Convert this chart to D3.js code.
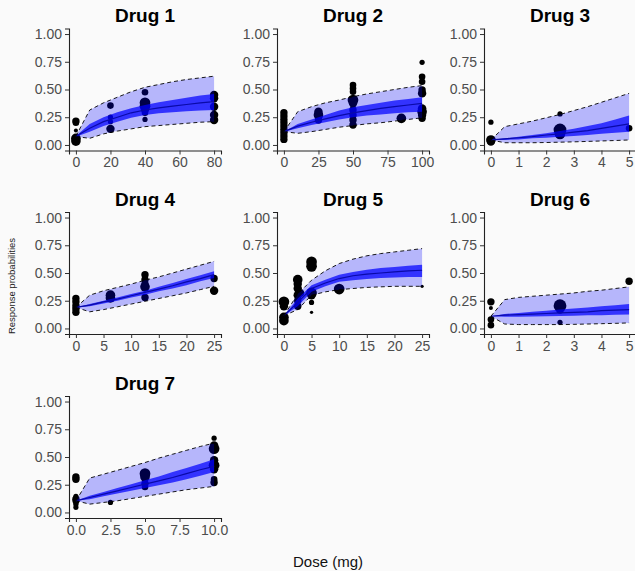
<!DOCTYPE html>
<html>
<head>
<meta charset="utf-8">
<script src="https://cdn.jsdelivr.net/npm/d3@7"></script>
<style>
  body { margin: 0; background: #fafafa; }
  svg { display: block; font-family: "Liberation Sans", Arial, sans-serif; }
</style>
</head>
<body>
<div class="app"></div>
<script>
// panel titles
var drugNames = ["Drug 1", "Drug 2", "Drug 3", "Drug 4", "Drug 5", "Drug 6", "Drug 7"];

// dose grid of the fitted curves, one row per drug
var gridDose = [
  [0, 8, 16, 24, 32, 40, 48, 56, 64, 72, 80],
  [0, 10, 20, 30, 40, 50, 60, 70, 80, 90, 100],
  [0, 0.5, 1, 1.5, 2, 2.5, 3, 3.5, 4, 4.5, 5],
  [0, 2.5, 5, 7.5, 10, 12.5, 15, 17.5, 20, 22.5, 25],
  [0, 2.5, 5, 7.5, 10, 12.5, 15, 17.5, 20, 22.5, 25],
  [0, 0.5, 1, 1.5, 2, 2.5, 3, 3.5, 4, 4.5, 5],
  [0, 1, 2, 3, 4, 5, 6, 7, 8, 9, 10]
];
// outer band (dashed)
var q05 = [
  [0.075, 0.06, 0.10, 0.125, 0.145, 0.165, 0.175, 0.185, 0.195, 0.205, 0.21],
  [0.12, 0.105, 0.12, 0.14, 0.16, 0.175, 0.19, 0.20, 0.215, 0.23, 0.245],
  [0.045, 0.02, 0.02, 0.02, 0.022, 0.025, 0.028, 0.032, 0.036, 0.04, 0.045],
  [0.19, 0.15, 0.17, 0.195, 0.22, 0.245, 0.27, 0.295, 0.32, 0.35, 0.38],
  [0.115, 0.17, 0.30, 0.33, 0.35, 0.36, 0.37, 0.375, 0.38, 0.38, 0.38],
  [0.11, 0.04, 0.035, 0.035, 0.035, 0.035, 0.037, 0.04, 0.043, 0.046, 0.05],
  [0.105, 0.075, 0.09, 0.105, 0.125, 0.145, 0.165, 0.185, 0.205, 0.22, 0.235]
];
var q95 = [
  [0.08, 0.315, 0.38, 0.43, 0.48, 0.52, 0.545, 0.57, 0.59, 0.605, 0.62],
  [0.12, 0.30, 0.345, 0.38, 0.405, 0.435, 0.46, 0.48, 0.50, 0.52, 0.535],
  [0.045, 0.165, 0.19, 0.215, 0.245, 0.275, 0.31, 0.345, 0.385, 0.425, 0.465],
  [0.19, 0.30, 0.34, 0.37, 0.40, 0.435, 0.465, 0.50, 0.535, 0.57, 0.605],
  [0.115, 0.31, 0.435, 0.52, 0.585, 0.625, 0.655, 0.675, 0.69, 0.705, 0.72],
  [0.11, 0.26, 0.28, 0.29, 0.30, 0.31, 0.32, 0.335, 0.345, 0.36, 0.375],
  [0.105, 0.31, 0.345, 0.38, 0.415, 0.45, 0.49, 0.525, 0.56, 0.595, 0.625]
];
// inner band
var q25 = [
  [0.075, 0.12, 0.17, 0.21, 0.245, 0.27, 0.285, 0.295, 0.305, 0.31, 0.315],
  [0.12, 0.15, 0.18, 0.205, 0.23, 0.25, 0.265, 0.275, 0.285, 0.295, 0.30],
  [0.045, 0.045, 0.05, 0.06, 0.065, 0.075, 0.08, 0.09, 0.10, 0.11, 0.12],
  [0.19, 0.20, 0.225, 0.25, 0.28, 0.305, 0.335, 0.36, 0.39, 0.425, 0.455],
  [0.115, 0.20, 0.33, 0.38, 0.42, 0.435, 0.445, 0.455, 0.46, 0.465, 0.465],
  [0.11, 0.105, 0.105, 0.108, 0.11, 0.112, 0.115, 0.118, 0.12, 0.123, 0.125],
  [0.105, 0.12, 0.145, 0.17, 0.195, 0.22, 0.245, 0.27, 0.30, 0.33, 0.365]
];
var q75 = [
  [0.08, 0.19, 0.25, 0.295, 0.33, 0.36, 0.385, 0.405, 0.425, 0.445, 0.46],
  [0.12, 0.19, 0.23, 0.27, 0.31, 0.34, 0.36, 0.38, 0.40, 0.415, 0.43],
  [0.045, 0.06, 0.075, 0.09, 0.105, 0.125, 0.145, 0.17, 0.195, 0.23, 0.265],
  [0.19, 0.22, 0.25, 0.28, 0.31, 0.34, 0.375, 0.41, 0.445, 0.48, 0.515],
  [0.115, 0.27, 0.39, 0.44, 0.485, 0.51, 0.53, 0.545, 0.555, 0.565, 0.575],
  [0.11, 0.13, 0.14, 0.15, 0.16, 0.17, 0.18, 0.19, 0.20, 0.21, 0.22],
  [0.105, 0.15, 0.185, 0.22, 0.255, 0.29, 0.325, 0.365, 0.40, 0.44, 0.48]
];
// median
var q50 = [
  [0.078, 0.15, 0.21, 0.25, 0.29, 0.315, 0.335, 0.35, 0.365, 0.38, 0.39],
  [0.12, 0.17, 0.205, 0.235, 0.265, 0.29, 0.31, 0.33, 0.345, 0.36, 0.375],
  [0.045, 0.055, 0.065, 0.075, 0.09, 0.10, 0.115, 0.13, 0.15, 0.17, 0.19],
  [0.19, 0.21, 0.24, 0.265, 0.295, 0.325, 0.355, 0.385, 0.42, 0.45, 0.485],
  [0.115, 0.235, 0.36, 0.41, 0.45, 0.475, 0.49, 0.50, 0.51, 0.52, 0.525],
  [0.11, 0.12, 0.125, 0.13, 0.135, 0.14, 0.145, 0.15, 0.16, 0.165, 0.17],
  [0.105, 0.135, 0.165, 0.195, 0.225, 0.255, 0.285, 0.315, 0.35, 0.385, 0.415]
];

// observed response rates: [dose, probability, n]
var obs = [
  [[0,0.215,10],[0,0.20,8],[0,0.13,3],[0,0.06,17],[0,0.035,17],
   [20,0.355,8],[20,0.25,5],[20,0.21,5],[20,0.145,13],
   [40,0.475,8],[40,0.38,21],[40,0.35,21],[40,0.32,13],[40,0.29,8],[40,0.23,5],
   [80,0.45,13],[80,0.42,13],[80,0.345,13],[80,0.27,13],[80,0.225,13]],
  [[0,0.29,10],[0,0.26,10],[0,0.23,10],[0,0.20,10],[0,0.17,10],[0,0.14,10],[0,0.11,10],[0,0.08,10],[0,0.05,10],
   [25,0.30,13],[25,0.27,17],[25,0.225,10],
   [50,0.54,8],[50,0.51,8],[50,0.48,8],[50,0.405,21],[50,0.375,13],[50,0.315,10],[50,0.27,10],[50,0.225,10],[50,0.18,10],
   [85,0.24,17],
   [100,0.745,5],[100,0.615,8],[100,0.57,8],[100,0.495,10],[100,0.465,13],[100,0.33,13],[100,0.30,17],[100,0.27,13],[100,0.24,10]],
  [[0,0.205,5],[0,0.045,17],[0,0.03,13],
   [2.5,0.28,5],[2.5,0.135,30],[2.5,0.10,21],
   [5,0.15,8]],
  [[0,0.27,10],[0,0.24,10],[0,0.205,10],[0,0.175,10],[0,0.145,10],
   [6.25,0.30,17],[6.25,0.275,17],
   [12.5,0.485,10],[12.5,0.44,10],[12.5,0.40,10],[12.5,0.375,17],[12.5,0.28,10],
   [25,0.45,10],[25,0.34,13]],
  [[0,0.24,21],[0,0.20,13],[0,0.10,17],[0,0.07,17],
   [2.5,0.44,17],[2.5,0.40,13],[2.5,0.36,13],[2.5,0.30,13],[2.5,0.25,10],[2.5,0.20,10],[3,0.32,10],
   [5,0.60,21],[5,0.56,21],[5,0.32,21],[5,0.30,13],[5,0.235,5],[5,0.145,2],
   [10,0.355,21],
   [25,0.38,2]],
  [[0,0.24,10],[0,0.185,3],[0,0.08,8],[0,0.03,8],
   [2.5,0.205,30],[2.5,0.17,13],[2.5,0.055,5],
   [5,0.425,10]],
  [[0,0.32,10],[0,0.30,10],[0,0.145,5],[0,0.12,10],[0,0.10,8],[0,0.075,5],[0,0.045,5],
   [2.5,0.09,5],
   [5,0.35,21],[5,0.32,17],[5,0.26,10],[5,0.23,8],
   [10,0.67,5],[10,0.605,13],[10,0.575,21],[10,0.47,13],[10,0.425,21],[10,0.39,13],[10,0.30,8],[10,0.27,10]]
];

var xTicks = [
  [0, 20, 40, 60, 80],
  [0, 25, 50, 75, 100],
  [0, 1, 2, 3, 4, 5],
  [0, 5, 10, 15, 20, 25],
  [0, 5, 10, 15, 20, 25],
  [0, 1, 2, 3, 4, 5],
  [0, 2.5, 5, 7.5, 10]
];
var xFormats = ["d", "d", "d", "d", "d", "d", ".1f"];
var yTicks = [0, 0.25, 0.5, 0.75, 1];

var width = 635, height = 571;
var colLeft = [69, 277, 484];
var rowTop = [28.5, 212, 396];
var pw = 152, ph = 122;

var svg = d3.select(".app").append("svg").attr("width", width).attr("height", height);
svg.append("rect").attr("width", width).attr("height", height).attr("fill", "#fafafa");

var rScale = d3.scaleSqrt().domain([0, 30]).range([0, 6.4]);

drugNames.forEach(function (name, i) {
  var x0 = colLeft[i % 3], y0 = rowTop[Math.floor(i / 3)];
  var dmax = d3.max(gridDose[i]);
  var x = d3.scaleLinear().domain([-0.05 * dmax, 1.05 * dmax]).range([0, pw]);
  var y = d3.scaleLinear().domain([-0.05, 1.05]).range([ph, 0]);
  var g = svg.append("g").attr("transform", "translate(" + x0 + "," + y0 + ")");

  var rows = gridDose[i].map(function (d, k) {
    return { d: d, lo: q05[i][k], hi: q95[i][k], lo2: q25[i][k], hi2: q75[i][k], med: q50[i][k] };
  });

  // points under the bands
  g.selectAll("circle").data(obs[i]).enter().append("circle")
    .attr("cx", function (d) { return x(d[0]); })
    .attr("cy", function (d) { return y(d[1]); })
    .attr("r", function (d) { return rScale(d[2]); })
    .attr("fill", "#000");

  g.append("path").datum(rows)
    .attr("d", d3.area().x(function (d) { return x(d.d); }).y0(function (d) { return y(d.lo); }).y1(function (d) { return y(d.hi); }))
    .attr("fill", "rgba(0,0,255,0.27)");
  g.append("path").datum(rows)
    .attr("d", d3.area().x(function (d) { return x(d.d); }).y0(function (d) { return y(d.lo2); }).y1(function (d) { return y(d.hi2); }))
    .attr("fill", "rgba(0,0,255,0.72)");
  g.append("path").datum(rows)
    .attr("d", d3.line().x(function (d) { return x(d.d); }).y(function (d) { return y(d.med); }))
    .attr("fill", "none").attr("stroke", "#0a0aa8").attr("stroke-width", 1.2);
  ["lo", "hi"].forEach(function (key) {
    g.append("path").datum(rows)
      .attr("d", d3.line().x(function (d) { return x(d.d); }).y(function (d) { return y(d[key]); }))
      .attr("fill", "none").attr("stroke", "#000").attr("stroke-width", 0.9).attr("stroke-dasharray", "4,3");
  });

  // axes
  var xa = g.append("g").attr("transform", "translate(0," + ph + ")")
    .call(d3.axisBottom(x).tickValues(xTicks[i]).tickFormat(d3.format(xFormats[i])).tickSizeOuter(0).tickSize(4).tickPadding(3));
  var ya = g.append("g")
    .call(d3.axisLeft(y).tickValues(yTicks).tickFormat(d3.format(".2f")).tickSizeOuter(0).tickSize(4).tickPadding(3));
  [xa, ya].forEach(function (a) {
    a.select(".domain").attr("stroke", "#222").attr("stroke-width", 1.1);
    a.selectAll(".tick line").attr("stroke", "#333").attr("stroke-width", 1);
    a.selectAll(".tick text").attr("fill", "#4d4d4d").style("font-size", "14px").style("font-family", "Liberation Sans, Arial, sans-serif");
  });

  g.append("text").attr("x", pw / 2).attr("y", -6.5).attr("text-anchor", "middle")
    .style("font-size", "19px").style("font-weight", "bold").attr("fill", "#000").text(name);
});

svg.append("text").attr("transform", "translate(15,286) rotate(-90)").attr("text-anchor", "middle")
  .style("font-size", "9.5px").attr("fill", "#222").text("Response probabilities");
svg.append("text").attr("x", 328).attr("y", 567).attr("text-anchor", "middle")
  .style("font-size", "15px").attr("fill", "#111").text("Dose (mg)");
</script>
</body>
</html>
